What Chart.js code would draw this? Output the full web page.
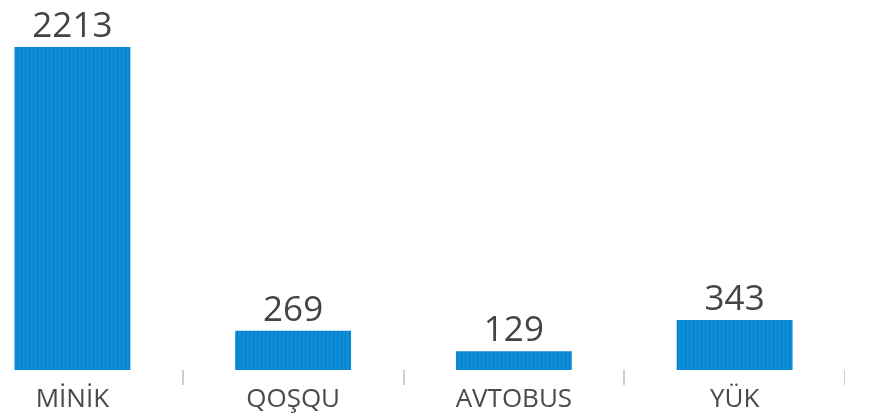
<!DOCTYPE html>
<html>
<head>
<meta charset="utf-8">
<script src="https://cdn.jsdelivr.net/npm/chart.js@4/dist/chart.umd.min.js"></script>
<style>
  html, body { margin: 0; padding: 0; background: #fff; overflow: hidden; }
  body { width: 878px; height: 417px; position: relative; }
  #wrap { position: absolute; left: -38px; top: 0; width: 883px; height: 417px; }
</style>
</head>
<body>
<div id="wrap"><canvas id="myChart"></canvas></div>
<script>
  // Data
  const categories = ['MİNİK', 'QOŞQU', 'AVTOBUS', 'YÜK'];
  const counts = [2213, 269, 129, 343];

  // Striped blue fill for the bars
  const tile = document.createElement('canvas');
  tile.width = 4;
  tile.height = 1;
  const tctx = tile.getContext('2d');
  tctx.fillStyle = '#0c8dd8';
  tctx.fillRect(0, 0, 4, 1);
  tctx.fillStyle = '#0a7bc4';
  tctx.fillRect(3, 0, 1, 1);

  // Value labels above each bar
  const valueLabels = {
    id: 'valueLabels',
    afterDatasetsDraw(chart) {
      const c = chart.ctx;
      const meta = chart.getDatasetMeta(0);
      c.save();
      c.font = '35px "Open Sans"';
      c.fillStyle = '#444';
      c.textAlign = 'center';
      c.textBaseline = 'alphabetic';
      meta.data.forEach((bar, i) => {
        c.fillText(String(counts[i]), bar.x, bar.y - 10);
      });
      c.restore();
    }
  };

  const ctx = document.getElementById('myChart').getContext('2d');
  const pattern = ctx.createPattern(tile, 'repeat');

  const myChart = new Chart(ctx, {
    type: 'bar',
    data: {
      labels: categories,
      datasets: [{
        data: counts,
        backgroundColor: pattern,
        borderWidth: 0,
        categoryPercentage: 1,
        barPercentage: 0.525
      }]
    },
    options: {
      responsive: true,
      maintainAspectRatio: false,
      animation: false,
      layout: { padding: { top: 47, left: 0, right: 0, bottom: 0 } },
      plugins: {
        legend: { display: false },
        tooltip: { enabled: false }
      },
      scales: {
        x: {
          offset: true,
          border: { display: false },
          grid: {
            offset: true,
            drawOnChartArea: false,
            tickLength: 15,
            color: 'rgba(185,185,195,0.7)',
            lineWidth: 2
          },
          ticks: {
            color: '#4a4a4a',
            padding: 0,
            font: { family: 'Open Sans', size: 26, lineHeight: 1.1 }
          },
          // keep the axis band fixed so the bars end at y=370
          afterFit(scale) { scale.height = 47; }
        },
        y: {
          display: false,
          min: 0,
          max: Math.max(...counts)
        }
      }
    },
    plugins: [valueLabels]
  });
</script>
</body>
</html>
